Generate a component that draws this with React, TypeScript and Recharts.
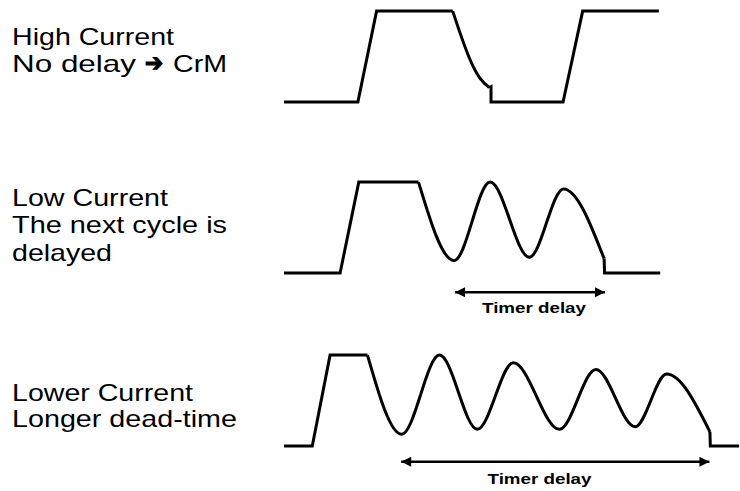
import React from "react";
import { LineChart, Line, XAxis, YAxis } from "recharts";

type Pt = { t: number; v: number };

// time axis 0..100 (arbitrary units), level 0 = low, 1 = high

// High current: no delay -> CrM
const highEdges: Pt[] = [
  { t: 0, v: 0 },
  { t: 16.2, v: 0 },
  { t: 20.3, v: 1 },
  { t: 37.0, v: 1 },
];
const highFall: Pt[] = [
  { t: 37.0, v: 1 },
  { t: 41.5, v: 0.39 },
  { t: 43.0, v: 0.26 },
  { t: 45.0, v: 0.16 },
];
const highTail: Pt[] = [
  { t: 45.0, v: 0.16 },
  { t: 45.4, v: 0.17 },
  { t: 45.4, v: 0 },
  { t: 61.2, v: 0 },
  { t: 65.5, v: 1 },
  { t: 82.2, v: 1 },
];

// Low current: next cycle delayed
const lowEdges: Pt[] = [
  { t: 0, v: 0 },
  { t: 12.3, v: 0 },
  { t: 16.4, v: 1 },
  { t: 29.5, v: 1 },
];
const lowRing: Pt[] = [
  { t: 29.5, v: 1 },
  { t: 37.3, v: 0.137 },
  { t: 45.2, v: 1 },
  { t: 53.8, v: 0.174 },
  { t: 61.3, v: 0.925 },
  { t: 70.2, v: 0.159 },
];
const lowTail: Pt[] = [
  { t: 70.2, v: 0.159 },
  { t: 70.3, v: 0 },
  { t: 82.5, v: 0 },
];
const lowTimer: Pt[] = [
  { t: 37.5, v: -0.21 },
  { t: 70.4, v: -0.21 },
];

// Lower current: longer dead-time
const lowerEdges: Pt[] = [
  { t: 0, v: 0 },
  { t: 6.2, v: 0 },
  { t: 10.1, v: 1 },
  { t: 18.3, v: 1 },
];
const lowerRing: Pt[] = [
  { t: 18.3, v: 1 },
  { t: 25.8, v: 0.129 },
  { t: 34.1, v: 1 },
  { t: 42.4, v: 0.184 },
  { t: 50.3, v: 0.915 },
  { t: 60.4, v: 0.184 },
  { t: 68.4, v: 0.843 },
  { t: 77.0, v: 0.212 },
  { t: 83.9, v: 0.791 },
  { t: 93.4, v: 0.157 },
];
const lowerTail: Pt[] = [
  { t: 93.4, v: 0.157 },
  { t: 93.5, v: 0 },
  { t: 99.8, v: 0 },
];
const lowerTimer: Pt[] = [
  { t: 25.7, v: -0.173 },
  { t: 93.3, v: -0.173 },
];

const leftLabels = [
  { text: "High Current", y: 45, w: 162 },
  { text: "Low Current", y: 205.7, w: 156 },
  { text: "The next cycle is", y: 233.3, w: 215 },
  { text: "delayed", y: 261, w: 100 },
  { text: "Lower Current", y: 400.7, w: 181 },
  { text: "Longer dead-time", y: 427.3, w: 225 },
];
const timerLabel = "Timer delay";

const FONT = "'Liberation Sans', Arial, Helvetica, sans-serif";
const PX_PER_LEVEL = 91;

const ArrowHead = (props: any) => {
  const { cx, cy, index } = props;
  if (cx == null || cy == null) return <g key={`ah-${index}`} />;
  const d = index === 0 ? 1 : -1;
  return (
    <polygon
      key={`ah-${index}`}
      points={`${cx},${cy} ${cx + d * 10},${cy - 5} ${cx + d * 10},${cy + 5}`}
      fill="#000"
    />
  );
};

type WaveProps = {
  top: number;
  yMin: number;
  edges: Pt[];
  curve: Pt[];
  tail: Pt[];
  timer?: Pt[];
};

function Wave({ top, yMin, edges, curve, tail, timer }: WaveProps) {
  const yMax = 1.1;
  const height = (yMax - yMin) * PX_PER_LEVEL;
  const common = {
    dataKey: "v",
    stroke: "#000",
    strokeWidth: 3,
    dot: false,
    activeDot: false,
    isAnimationActive: false,
  } as const;
  return (
    <div style={{ position: "absolute", left: 284, top }}>
      <LineChart
        width={456}
        height={height}
        margin={{ top: 0, right: 0, bottom: 0, left: 0 }}
      >
        <XAxis dataKey="t" type="number" domain={[0, 100]} hide />
        <YAxis type="number" domain={[yMin, yMax]} hide />
        <Line {...common} data={edges} type="linear" />
        <Line {...common} data={curve} type="monotone" />
        <Line {...common} data={tail} type="linear" />
        {timer && (
          <Line
            data={timer}
            dataKey="v"
            type="linear"
            stroke="#000"
            strokeWidth={2.5}
            dot={ArrowHead}
            activeDot={false}
            isAnimationActive={false}
          />
        )}
      </LineChart>
    </div>
  );
}

export default function App() {
  return (
    <div
      style={{
        position: "absolute",
        left: 0,
        top: 0,
        width: 740,
        height: 491,
        background: "#fff",
        overflow: "hidden",
      }}
    >
      <svg
        width={740}
        height={491}
        style={{ position: "absolute", left: 0, top: 0 }}
      >
        {leftLabels.map((l) => (
          <text
            key={l.text}
            x={12}
            y={l.y}
            fontSize={24}
            fontFamily={FONT}
            fill="#000"
            textLength={l.w}
            lengthAdjust="spacingAndGlyphs"
          >
            {l.text}
          </text>
        ))}
        <text x={12} y={72.3} fontSize={24} fontFamily={FONT} fill="#000" textLength={124} lengthAdjust="spacingAndGlyphs">
          No delay
        </text>
        <text x={145} y={71} fontSize={24} fontFamily="'DejaVu Sans', sans-serif" fill="#000" stroke="#000" strokeWidth={1.3} textLength={18} lengthAdjust="spacingAndGlyphs">
          {"\u2794"}
        </text>
        <text x={173} y={72.3} fontSize={24} fontFamily={FONT} fill="#000" textLength={54} lengthAdjust="spacingAndGlyphs">
          CrM
        </text>
        <text
          x={534}
          y={313.3}
          fontSize={15}
          fontWeight="bold"
          fontFamily={FONT}
          textAnchor="middle"
          textLength={104}
          lengthAdjust="spacingAndGlyphs"
        >
          {timerLabel}
        </text>
        <text
          x={539.5}
          y={484.3}
          fontSize={15}
          fontWeight="bold"
          fontFamily={FONT}
          textAnchor="middle"
          textLength={104}
          lengthAdjust="spacingAndGlyphs"
        >
          {timerLabel}
        </text>
      </svg>
      <Wave top={11 - 0.1 * PX_PER_LEVEL} yMin={-0.1} edges={highEdges} curve={highFall} tail={highTail} />
      <Wave top={182 - 0.1 * PX_PER_LEVEL} yMin={-0.45} edges={lowEdges} curve={lowRing} tail={lowTail} timer={lowTimer} />
      <Wave top={355 - 0.1 * PX_PER_LEVEL} yMin={-0.3} edges={lowerEdges} curve={lowerRing} tail={lowerTail} timer={lowerTimer} />
    </div>
  );
}
